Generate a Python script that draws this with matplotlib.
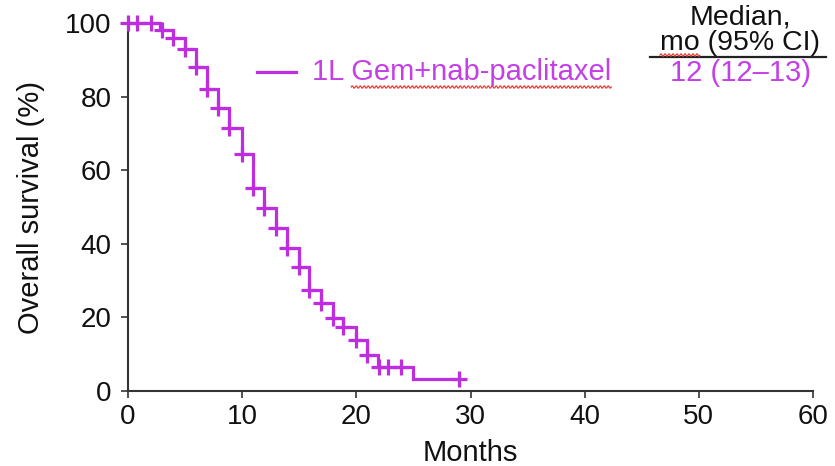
import numpy as np
import matplotlib
matplotlib.use("Agg")
import matplotlib.pyplot as plt
from matplotlib.lines import Line2D

plt.rcParams['font.family'] = ['Liberation Sans', 'DejaVu Sans']

# ---- data ----
event_times = [2.8, 3.9, 5.0, 5.95, 6.9, 7.9, 8.85, 9.95, 10.95, 11.9, 12.95, 13.9,
               15.0, 15.85, 16.9, 17.95, 18.8, 19.95, 20.9, 21.9, 24.95]
surv_after = [98, 96, 93, 88, 82, 77, 71.5, 64.5, 55.2, 49.7, 44.3, 38.9,
              33.7, 27.5, 23.9, 19.8, 17.4, 13.9, 9.8, 6.5, 3.3]
censor_times = [0, 0.8, 2.0, 3.0, 3.9, 5.0, 5.95, 6.9, 7.9, 8.85, 9.95, 10.95, 11.9,
                12.95, 13.9, 15.0, 15.85, 16.9, 17.95, 18.8, 19.95, 20.9, 22.0, 22.8,
                23.9, 29.0]
end_time = 29.0
series_label = "1L Gem+nab-paclitaxel"
median_text = "12 (12\u201313)"
x_ticks = [0, 10, 20, 30, 40, 50, 60]
y_ticks = [0, 20, 40, 60, 80, 100]

purple = '#BE2EE0'
text_purple = '#C43FE6'
axis_col = '#333333'

W, H = 835, 466
fig = plt.figure(figsize=(W / 100, H / 100), dpi=100)
ax = fig.add_axes([128 / W, 1 - 391 / H, (813 - 128) / W, (391 - 23) / H])

# step curve
t = np.concatenate([[0.0], event_times, [end_time]])
s = np.concatenate([[100.0], surv_after, [surv_after[-1]]])
ax.step(t, s, where='post', color=purple, lw=2.3, solid_joinstyle='miter',
        clip_on=False, zorder=3)

# censor marks
et = np.array(event_times)
sa = np.array([100.0] + list(surv_after))
cs = [sa[np.searchsorted(et, c, side='right')] for c in censor_times]
ax.plot(censor_times, cs, ls='none', marker='+', ms=11, mew=2.3, color=purple,
        clip_on=False, zorder=4)

ax.set_xlim(0, 60)
ax.set_ylim(0, 100)
ax.set_xticks(x_ticks)
ax.set_yticks(y_ticks)
for sp in ['top', 'right']:
    ax.spines[sp].set_visible(False)
for sp in ['left', 'bottom']:
    ax.spines[sp].set_color(axis_col)
    ax.spines[sp].set_linewidth(1.5)
ax.tick_params(axis='both', direction='out', length=5, width=1.2, colors=axis_col,
               labelcolor='#111111', labelsize=20)
ax.tick_params(axis='x', pad=4)
ax.tick_params(axis='y', pad=7)
ax.set_xlabel('Months', fontsize=21, color='#111111', labelpad=7)
ax.set_ylabel('Overall survival (%)', fontsize=21, color='#111111', labelpad=14)

# legend entry
fig.add_artist(Line2D([257 / W, 296 / W], [1 - 72 / H, 1 - 72 / H],
                      transform=fig.transFigure, color=purple, lw=2.3))
leg_txt = fig.text(312 / W, 1 - 72 / H, series_label, color=text_purple,
                   fontsize=21, ha='left', va='center')

# header and median
fig.text(740 / W, 1 - 17 / H, 'Median,', fontsize=20.5, color='#111111',
         ha='center', va='center')
mo_txt = fig.text(740 / W, 1 - 43 / H, 'mo (95% CI)', fontsize=20.5, color='#111111',
                  ha='center', va='center')
fig.add_artist(Line2D([650 / W, 826 / W], [1 - 57 / H, 1 - 57 / H],
                      transform=fig.transFigure, color='#222222', lw=1.6))
fig.text(740 / W, 1 - 73 / H, median_text, fontsize=21, color=text_purple,
         ha='center', va='center')

# spell-check style wavy underlines
fig.canvas.draw()
r = fig.canvas.get_renderer()


def wavy(x0, x1, y):
    xs = np.linspace(x0, x1, int((x1 - x0) * 1.5) + 2)
    ys = y + 1.2 * np.sin((xs - x0) / 2.0 * np.pi)
    fig.add_artist(Line2D(xs / W, ys / H, transform=fig.transFigure,
                          color='#E8403A', lw=0.9))


bb = leg_txt.get_window_extent(r)
tmp = fig.text(0, 0, '1L ', fontsize=21)
w_pre = tmp.get_window_extent(r).width
tmp.remove()
wavy(bb.x0 + w_pre, bb.x1, bb.y0 - 1)

bb2 = mo_txt.get_window_extent(r)
tmp = fig.text(0, 0, 'mo', fontsize=20.5)
w_mo = tmp.get_window_extent(r).width
tmp.remove()
wavy(bb2.x0, bb2.x0 + w_mo, H - 55)

fig.savefig('out.png', dpi=100)
